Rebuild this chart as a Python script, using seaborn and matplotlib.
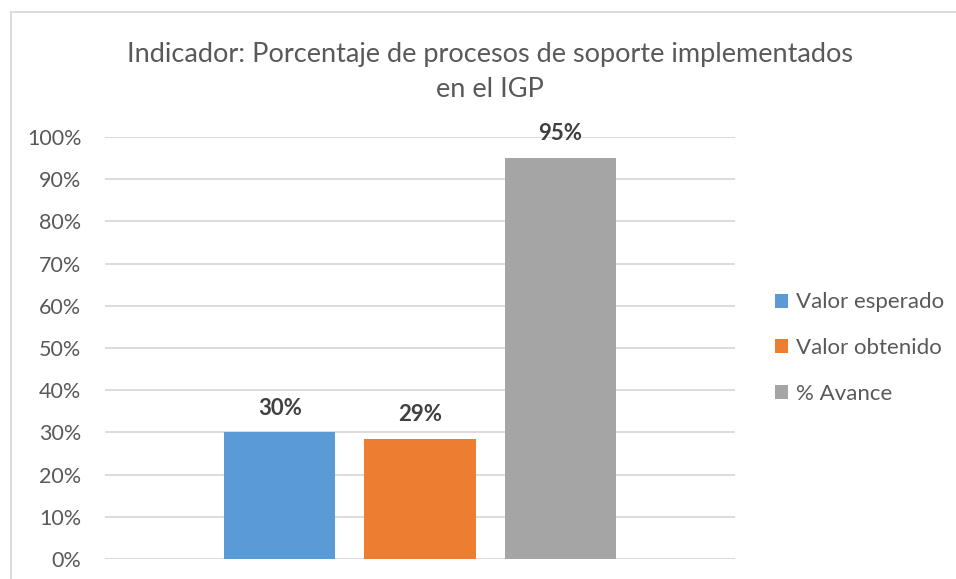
import matplotlib
matplotlib.use("Agg")
import matplotlib.pyplot as plt
import seaborn as sns
import pandas as pd
from matplotlib.ticker import PercentFormatter, MultipleLocator
from matplotlib.patches import Patch
from matplotlib.lines import Line2D

series = ["Valor esperado", "Valor obtenido", "% Avance"]
values = [0.30, 0.285, 0.95]
labels = ["30%", "29%", "95%"]
colors = ["#5B9BD5", "#ED7D31", "#A5A5A5"]
category = ["IGP"]

sns.set_theme(style="white")
plt.rcParams["font.family"] = ["Lato", "DejaVu Sans"]

df = pd.DataFrame({"cat": category * len(series), "serie": series, "valor": values})

fig = plt.figure(figsize=(9.56, 5.79), dpi=100)
ax = fig.add_axes([105 / 956, 20 / 579, 630 / 956, 422 / 579])

sns.barplot(data=df, x="cat", y="valor", hue="serie", palette=colors,
            width=0.667, gap=0.207, ax=ax, legend=False, saturation=1, edgecolor="none")

ax.set_xlim(-0.5, 0.5)
ax.set_ylim(0, 1)
ax.yaxis.set_major_locator(MultipleLocator(0.1))
ax.yaxis.set_major_formatter(PercentFormatter(1.0, decimals=0))
ax.grid(axis="y", color="#D9D9D9", linewidth=1.3)
ax.set_axisbelow(True)
for s in ax.spines.values():
    s.set_visible(False)
ax.set_xlabel("")
ax.set_ylabel("")
ax.set_xticks([])
ax.tick_params(axis="y", labelsize=15.5, colors="#595959", length=0, pad=17)
for t in ax.get_yticklabels():
    t.set_color("#595959")

for bar, lab in zip(ax.patches, labels):
    ax.annotate(lab, (bar.get_x() + bar.get_width() / 2, bar.get_height()),
                xytext=(0, 17.5), textcoords="offset points", ha="center", va="center",
                fontsize=16, fontweight="bold", color="#404040")

fig.text(490 / 956, 1 - 72 / 579, "Indicador: Porcentaje de procesos de soporte implementados\nen el IGP",
         ha="center", va="center", fontsize=19.5, color="#595959", linespacing=1.5)

handles = [Patch(facecolor=c, edgecolor="none") for c in colors]
leg = fig.legend(handles, series, loc="center left", bbox_to_anchor=(755 / 956, 1 - 348 / 579),
                 frameon=False, fontsize=16, handlelength=0.6, handleheight=0.6,
                 handletextpad=0.35, labelspacing=1.15, labelcolor="#595959")

# chart border (top and left visible)
fig.add_artist(Line2D([11 / 956, 1], [1 - 12 / 579, 1 - 12 / 579], color="#D9D9D9", linewidth=1.3))
fig.add_artist(Line2D([11 / 956, 11 / 956], [0, 1 - 12 / 579], color="#D9D9D9", linewidth=1.3))

fig.savefig("out.png", dpi=100)
